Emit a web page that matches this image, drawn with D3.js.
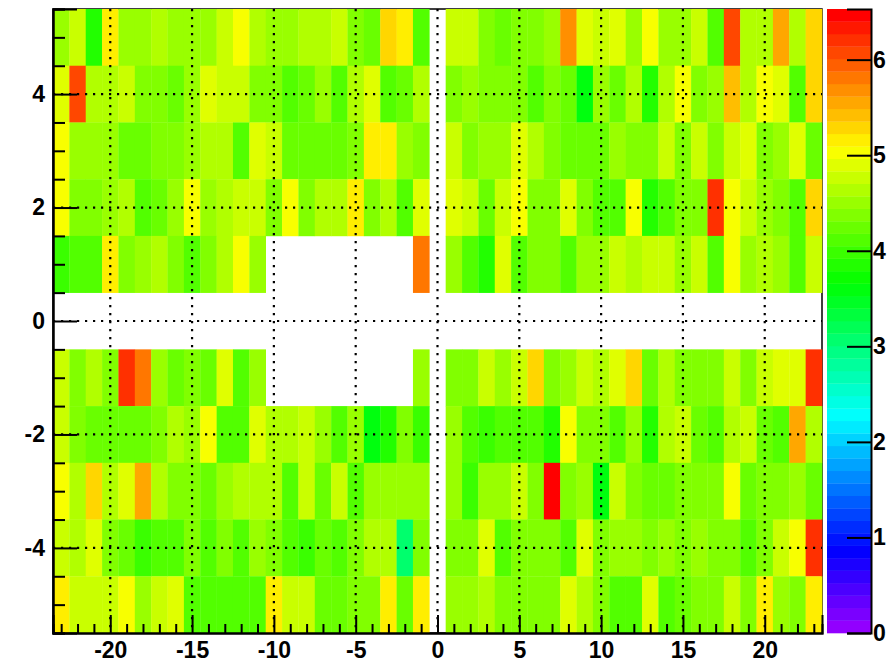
<!DOCTYPE html>
<html>
<head>
<meta charset="utf-8">
<script src="https://cdn.jsdelivr.net/npm/d3@7"></script>
<style>
  body { margin: 0; background: #fff; }
  svg text { font-family: "Liberation Sans", Arial, sans-serif; font-weight: bold; }
</style>
</head>
<body>
<div id="chart"></div>
<script>
// bin centres
var xBins = [-23,-22,-21,-20,-19,-18,-17,-16,-15,-14,-13,-12,-11,-10,-9,-8,-7,-6,-5,-4,-3,-2,-1,0,
             1,2,3,4,5,6,7,8,9,10,11,12,13,14,15,16,17,18,19,20,21,22,23];
var yBins = [5, 4, 3, 2, 1, 0, -1, -2, -3, -4, -5];

// cell contents, one array per row (null = empty bin)
var row5  = [4.5,4.8,3.85,5.2,4.5,4.5,4.65,4.5,4.5,4.5,4.75,5.0, 4.6,4.5,4.5,4.6,4.65,4.75,4.4,4.3,5.3,5.15,4.1,null,
             4.8,4.8,4.4,4.2,4.4,4.35,4.5,5.65,4.85,4.8,4.9,4.5, 5.0,4.5,4.5,4.75,4.05,6.1,4.6,4.6,5.55,4.65,5.3];
var row4  = [4.9,6.1,4.6,4.6,4.8,4.4,4.4,4.3,4.5,4.9,4.75,4.75, 4.35,4.35,4.1,4.2,4.55,4.1,4.65,4.9,4.1,4.2,4.65,null,
             4.35,4.55,4.4,4.4,4.4,4.1,4.35,4.2,3.65,4.5,4.3,4.65, 3.85,4.6,5.0,4.4,4.5,5.45,4.6,5.0,4.9,4.05,5.3];
var row3  = [5.0,4.55,4.55,4.55,4.2,4.2,4.4,4.35,4.5,4.7,4.65,4.1, 4.9,4.75,4.2,4.2,4.3,4.3,4.4,5.1,5.1,4.5,4.35,null,
             4.75,4.4,4.5,4.5,4.9,4.6,4.4,4.3,4.3,4.3,4.5,4.4, 4.4,4.75,4.4,4.8,4.4,4.75,4.85,4.4,4.5,4.9,4.3];
var row2  = [5.0,4.35,4.35,4.5,4.65,4.1,4.2,4.5,5.0,4.5,4.6,4.8, 4.8,4.4,5.0,4.4,4.7,4.65,5.2,4.4,4.6,4.1,4.9,null,
             4.9,4.8,4.2,4.8,5.0,4.4,4.4,4.9,4.4,4.05,4.1,5.0, 3.85,4.1,4.4,4.4,6.25,5.0,4.8,4.55,4.4,4.05,5.3];
var row1  = [3.95,4.1,4.1,5.2,4.4,4.5,4.6,4.35,4.05,4.4,4.7,5.0, 4.55,null,null,null,null,null,null,null,null,null,5.75,null,
             4.5,4.1,3.85,4.9,4.05,4.4,4.4,4.1,4.5,4.55,4.75,4.65, 4.75,4.75,4.5,4.75,4.1,5.0,4.5,4.65,4.5,4.05,4.75];
var row0  = [null,null,null,null,null,null,null,null,null,null,null,null,null,null,null,null,null,null,null,null,null,null,null,null,
             null,null,null,null,null,null,null,null,null,null,null,null,null,null,null,null,null,null,null,null,null,null,null];
var rowM1 = [4.75,4.4,4.65,4.4,6.2,5.75,4.5,4.2,4.4,4.3,4.9,4.1, 4.55,null,null,null,null,null,null,null,null,null,4.5,null,
             4.4,4.4,4.8,4.5,4.75,5.3,4.4,4.55,4.8,4.65,4.9,5.3, 4.2,4.65,4.4,4.4,4.4,4.75,4.4,4.75,4.9,4.95,6.2];
var rowM2 = [4.75,4.4,4.2,4.2,4.3,4.2,4.4,4.65,4.5,5.0,4.1,4.1, 4.9,4.6,4.6,4.8,4.55,4.1,4.5,3.55,3.85,4.4,3.95,null,
             4.5,4.1,3.95,4.05,4.05,4.05,3.85,5.0,4.4,4.4,4.1,4.55, 3.85,4.7,4.75,4.2,4.1,4.6,4.75,4.3,4.05,5.55,4.65];
var rowM3 = [5.0,4.65,5.3,4.65,4.9,5.55,4.65,4.4,4.4,4.3,4.5,4.7, 4.6,4.6,4.05,4.8,4.2,4.75,4.1,4.5,4.5,4.5,4.5,null,
             4.5,3.95,4.5,4.5,4.8,4.4,6.5,4.4,4.5,3.65,4.75,4.4, 4.3,4.3,4.4,4.4,4.4,5.0,4.3,4.4,4.4,4.5,4.3];
var rowM4 = [4.75,4.65,4.9,4.4,4.2,3.95,4.1,4.1,4.4,4.1,4.4,4.1, 4.5,4.4,4.1,3.95,4.2,4.05,4.4,4.65,4.65,3.1,4.4,null,
             4.4,4.4,4.9,4.1,4.4,4.4,4.4,4.1,4.95,4.4,4.5,4.5, 4.4,4.5,4.4,4.5,4.4,4.4,4.1,4.4,4.8,5.0,6.2];
var rowM5 = [5.2,4.8,4.8,4.75,5.0,4.5,4.8,4.9,4.1,4.1,4.1,4.1, 4.1,5.2,4.8,4.8,4.2,4.2,4.4,4.4,5.1,4.2,5.1,null,
             4.5,4.5,4.65,4.4,4.4,4.4,4.4,4.9,4.7,4.4,4.1,4.05, 4.9,4.05,4.2,4.4,4.4,4.8,4.4,5.2,4.55,4.4,5.1];
var rows = [row5, row4, row3, row2, row1, row0, rowM1, rowM2, rowM3, rowM4, rowM5];

var xMajor = [-20, -15, -10, -5, 0, 5, 10, 15, 20];
var yMajor = [-4, -2, 0, 2, 4];
var zTicks = [0, 1, 2, 3, 4, 5, 6];
var zMin = 0, zMax = 6.53;
var nColors = 50;

var W = 889, H = 665;
var svg = d3.select("#chart").append("svg").attr("width", W).attr("height", H);

var x = d3.scaleLinear().domain([-23.5, 23.5]).range([53, 822]);
var y = d3.scaleLinear().domain([-5.5, 5.5]).range([633, 9]);
var z = d3.scaleLinear().domain([zMin, zMax]).range([633, 9]);

// ROOT "pretty palette": violet -> red, 50 colours
function colorIndex(v) {
    var i = Math.floor(0.01 + (v - zMin) * nColors / (zMax - zMin));
    return Math.max(0, Math.min(nColors - 1, i));
}
function paletteColor(i) {
    return d3.hsl(280 - (i + 1) * 280 / nColors, 1, 0.5).toString();
}

// frame (only visible where no cell covers it)
svg.append("rect").attr("x", 53).attr("y", 9).attr("width", 769).attr("height", 624)
    .attr("fill", "none").attr("stroke", "#000").attr("stroke-width", 1.5);

var cells = [];
rows.forEach(function(r, j) {
    r.forEach(function(v, i) {
        if (v !== null) cells.push({x: xBins[i], y: yBins[j], v: v});
    });
});

svg.append("g").selectAll("rect").data(cells).enter().append("rect")
    .attr("x", function(d) { return x(d.x - 0.5); })
    .attr("y", function(d) { return y(d.y + 0.5); })
    .attr("width", function(d) { return x(d.x + 0.5) - x(d.x - 0.5) + 0.3; })
    .attr("height", function(d) { return y(d.y - 0.5) - y(d.y + 0.5) + 0.3; })
    .attr("fill", function(d) { return paletteColor(colorIndex(d.v)); });

// dotted grid
var grid = svg.append("g").attr("stroke", "#000").attr("stroke-width", 2.2)
    .attr("stroke-dasharray", "2.2,5.8");
grid.selectAll("line.gx").data(xMajor).enter().append("line")
    .attr("x1", function(d) { return x(d); }).attr("x2", function(d) { return x(d); })
    .attr("y1", 9).attr("y2", 633);
grid.selectAll("line.gy").data(yMajor).enter().append("line")
    .attr("y1", function(d) { return y(d); }).attr("y2", function(d) { return y(d); })
    .attr("x1", 53).attr("x2", 822);

// axes
var xMinor = d3.range(-23, 24, 1).filter(function(d) { return xMajor.indexOf(d) < 0; });
var yMinor = d3.range(-5.5, 5.51, 0.5).filter(function(d) { return yMajor.indexOf(d) < 0; });

var gx = svg.append("g").attr("transform", "translate(0,633)")
    .call(d3.axisBottom(x).tickValues(xMajor).tickSize(-18).tickPadding(9)
        .tickFormat(d3.format("d")));
svg.append("g").attr("transform", "translate(0,633)")
    .call(d3.axisBottom(x).tickValues(xMinor).tickSize(-9).tickFormat(""));
var gy = svg.append("g").attr("transform", "translate(53,0)")
    .call(d3.axisLeft(y).tickValues(yMajor).tickSize(-24).tickPadding(8)
        .tickFormat(d3.format("d")));
svg.append("g").attr("transform", "translate(53,0)")
    .call(d3.axisLeft(y).tickValues(yMinor).tickSize(-12).tickFormat(""));

svg.selectAll(".domain").attr("stroke-width", 2);
svg.selectAll(".tick line").attr("stroke-width", 2);
svg.selectAll(".tick text").attr("font-size", 23).attr("fill", "#000");
gx.selectAll(".tick text").attr("dy", "0.71em");
gx.selectAll(".tick text").text(function(d) { return d < 0 ? "-" + Math.abs(d) : d; });
gy.selectAll(".tick text").text(function(d) { return d < 0 ? "-" + Math.abs(d) : d; });

// palette
var paletteIdx = d3.range(nColors);
var pal = svg.append("g");
pal.selectAll("rect").data(paletteIdx).enter().append("rect")
    .attr("x", 827).attr("width", 44)
    .attr("y", function(i) { return z(zMin + (i + 1) * (zMax - zMin) / nColors); })
    .attr("height", function(i) { return z(zMin + i * (zMax - zMin) / nColors) - z(zMin + (i + 1) * (zMax - zMin) / nColors) + 0.3; })
    .attr("fill", function(i) { return paletteColor(i); });

var gz = svg.append("g").attr("transform", "translate(871,0)")
    .call(d3.axisRight(z).tickValues(zTicks).tickSize(-24).tickPadding(2).tickFormat(d3.format("d")));
gz.select(".domain").attr("stroke-width", 2);
gz.selectAll(".tick line").attr("stroke-width", 2);
gz.selectAll(".tick text").attr("font-size", 23).attr("fill", "#000");
</script>
</body>
</html>
